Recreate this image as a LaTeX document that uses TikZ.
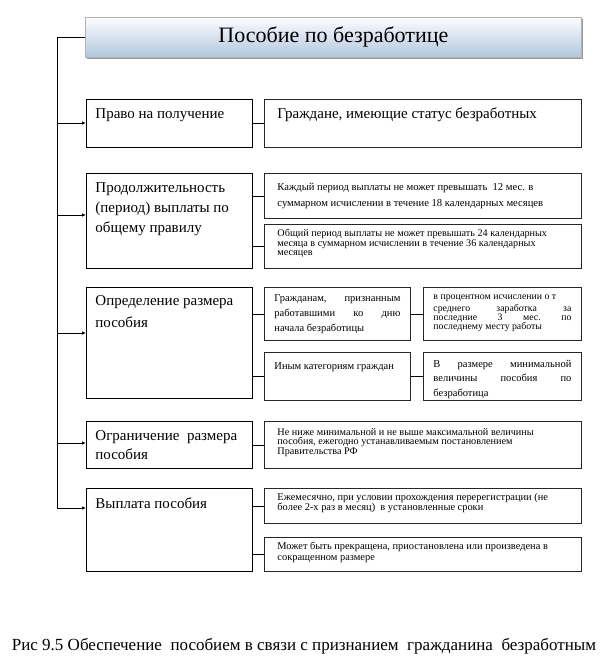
\documentclass[tikz,border=0pt]{standalone}
\usepackage{fontspec}
\setmainfont{Liberation Serif}
\usetikzlibrary{arrows.meta,shadows,calc}
\newcommand{\cellt}[4]{\parbox[c][#2pt][t]{#1pt}{\rule{0pt}{#3pt}#4}}
\tikzset{
  lbox/.style={draw=black, line width=0.9pt, anchor=north west, inner ysep=0pt, inner xsep=9pt,
    font=\fontsize{15}{20}\selectfont},
  rbox/.style={draw=black!85, line width=0.9pt, anchor=north west, inner ysep=0pt, inner xsep=13pt,
    fill=white, drop shadow={shadow xshift=1pt, shadow yshift=-1pt, fill=black!50, opacity=1}},
  conn/.style={draw=black, line width=0.8pt},
  arr/.style={draw=black, line width=0.9pt, -{Latex[length=4pt,width=3.5pt]}},
}
\begin{document}
\begin{tikzpicture}[x=1pt, y=-1pt]
\useasboundingbox (0,0) rectangle (610,660);
% title
\node[anchor=north west, draw=black!30, line width=0.8pt, minimum width=496pt, minimum height=40pt,
  top color=white!85!blue!8, bottom color={rgb,255:red,178;green,199;blue,222},
  drop shadow={shadow xshift=1.5pt, shadow yshift=-1.5pt, fill=black!40, opacity=1},
  font=\fontsize{22}{26}\selectfont] (top) at (85,17) {Пособие по безработице};
% left column
\node[lbox] (l1) at (86,99) {\cellt{148}{48}{19}{Право на получение}};
\node[lbox] (l2) at (86,173) {\cellt{148}{95}{19}{Продолжительность\\ (период) выплаты по\\ общему правилу}};
\node[lbox, font=\fontsize{15}{22}\selectfont] (l3) at (86,287) {\cellt{148}{111}{18}{Определение размера\\ пособия}};
\node[lbox, font=\fontsize{15}{19}\selectfont] (l4) at (86,421) {\cellt{148}{47}{19}{Ограничение\ \ размера\\ пособия}};
\node[lbox] (l5) at (86,488) {\cellt{148}{83}{20}{Выплата пособия}};
% right column
\node[rbox, font=\fontsize{15}{20}\selectfont] (r1) at (264,99) {\cellt{291}{48}{19}{Граждане, имеющие статус безработных}};
\node[rbox, font=\fontsize{10.6}{16}\selectfont] (r2a) at (264,173) {\cellt{291}{45}{17.5}{Каждый период выплаты не может превышать\ \ 12 мес. в\\ суммарном исчислении в течение 18 календарных месяцев}};
\node[rbox, font=\fontsize{10.2}{9.3}\selectfont] (r2b) at (264,224) {\cellt{291}{44}{12.5}{Общий период выплаты не может превышать 24 календарных\\ месяца в суммарном исчислении в течение 36 календарных\\ месяцев}};
\node[rbox, inner xsep=10pt, font=\fontsize{10.5}{15}\selectfont] (m3a) at (264,287) {\cellt{126}{53}{14}{Гражданам,\hfill признанным\\ работавшими\hfill ко\hfill дню\\ начала безработицы}};
\node[rbox, inner xsep=10pt, font=\fontsize{9.8}{9}\selectfont] (r3a) at (423,287) {\cellt{138}{53}{12}{в процентном исчислении о т\\[2pt] среднего\hfill заработка\hfill за\\ последние\hfill 3\hfill мес.\hfill по\\ последнему месту работы}};
\node[rbox, inner xsep=10pt, font=\fontsize{10.5}{15}\selectfont] (m3b) at (264,352) {\cellt{126}{48}{17}{Иным категориям граждан}};
\node[rbox, inner xsep=10pt, font=\fontsize{10.5}{14.5}\selectfont] (r3b) at (423,352) {\cellt{138}{48}{15}{В\hfill размере\hfill минимальной\\ величины\hfill пособия\hfill по\\ безработица}};
\node[rbox, font=\fontsize{10.2}{9.3}\selectfont] (r4) at (264,421) {\cellt{291}{47}{14}{Не ниже минимальной и не выше максимальной величины\\ пособия, ежегодно устанавливаемым постановлением\\ Правительства РФ}};
\node[rbox, font=\fontsize{10.4}{9.8}\selectfont] (r5a) at (264,488) {\cellt{291}{35}{12.5}{Ежемесячно, при условии прохождения перерегистрации (не\\ более 2-х раз в месяц)\ \ в установленные сроки}};
\node[rbox, font=\fontsize{10.4}{10.2}\selectfont] (r5b) at (264,537) {\cellt{291}{34}{12.5}{Может быть прекращена, приостановлена или произведена в\\ сокращенном размере}};
% caption
\node[font=\fontsize{17}{20}\selectfont] (cap) at (304,646) {Рис 9.5 Обеспечение\ \ пособием в связи с признанием\ \ гражданина\ \ безработным};
% trunk and arrows
\coordinate (t1) at (57,123);
\coordinate (t2) at (57,215);
\coordinate (t3) at (57,333);
\coordinate (t4) at (57,443);
\coordinate (t5) at (57,508);
\draw[conn, line width=1pt] (top.west) -| (t5);
\draw[arr] (t1) -- (t1 -| l1.west);
\draw[arr] (t2) -- (t2 -| l2.west);
\draw[arr] (t3) -- (t3 -| l3.west);
\draw[arr] (t4) -- (t4 -| l4.west);
\draw[arr] (t5) -- (t5 -| l5.west);
% connectors
\draw[conn] (r1.west -| l1.east) -- (r1.west);
\draw[conn] (r2a.west -| l2.east) -- (r2a.west);
\draw[conn] (r2b.west -| l2.east) -- (r2b.west);
\draw[conn] (m3a.west -| l3.east) -- (m3a.west);
\draw[conn] (m3b.west -| l3.east) -- (m3b.west);
\draw[conn] (m3a.east) -- (m3a.east -| r3a.west);
\draw[conn] (m3b.east) -- (m3b.east -| r3b.west);
\draw[conn] (r4.west -| l4.east) -- (r4.west);
\draw[conn] (r5a.west -| l5.east) -- (r5a.west);
\draw[conn] (r5b.west -| l5.east) -- (r5b.west);
\end{tikzpicture}
\end{document}
